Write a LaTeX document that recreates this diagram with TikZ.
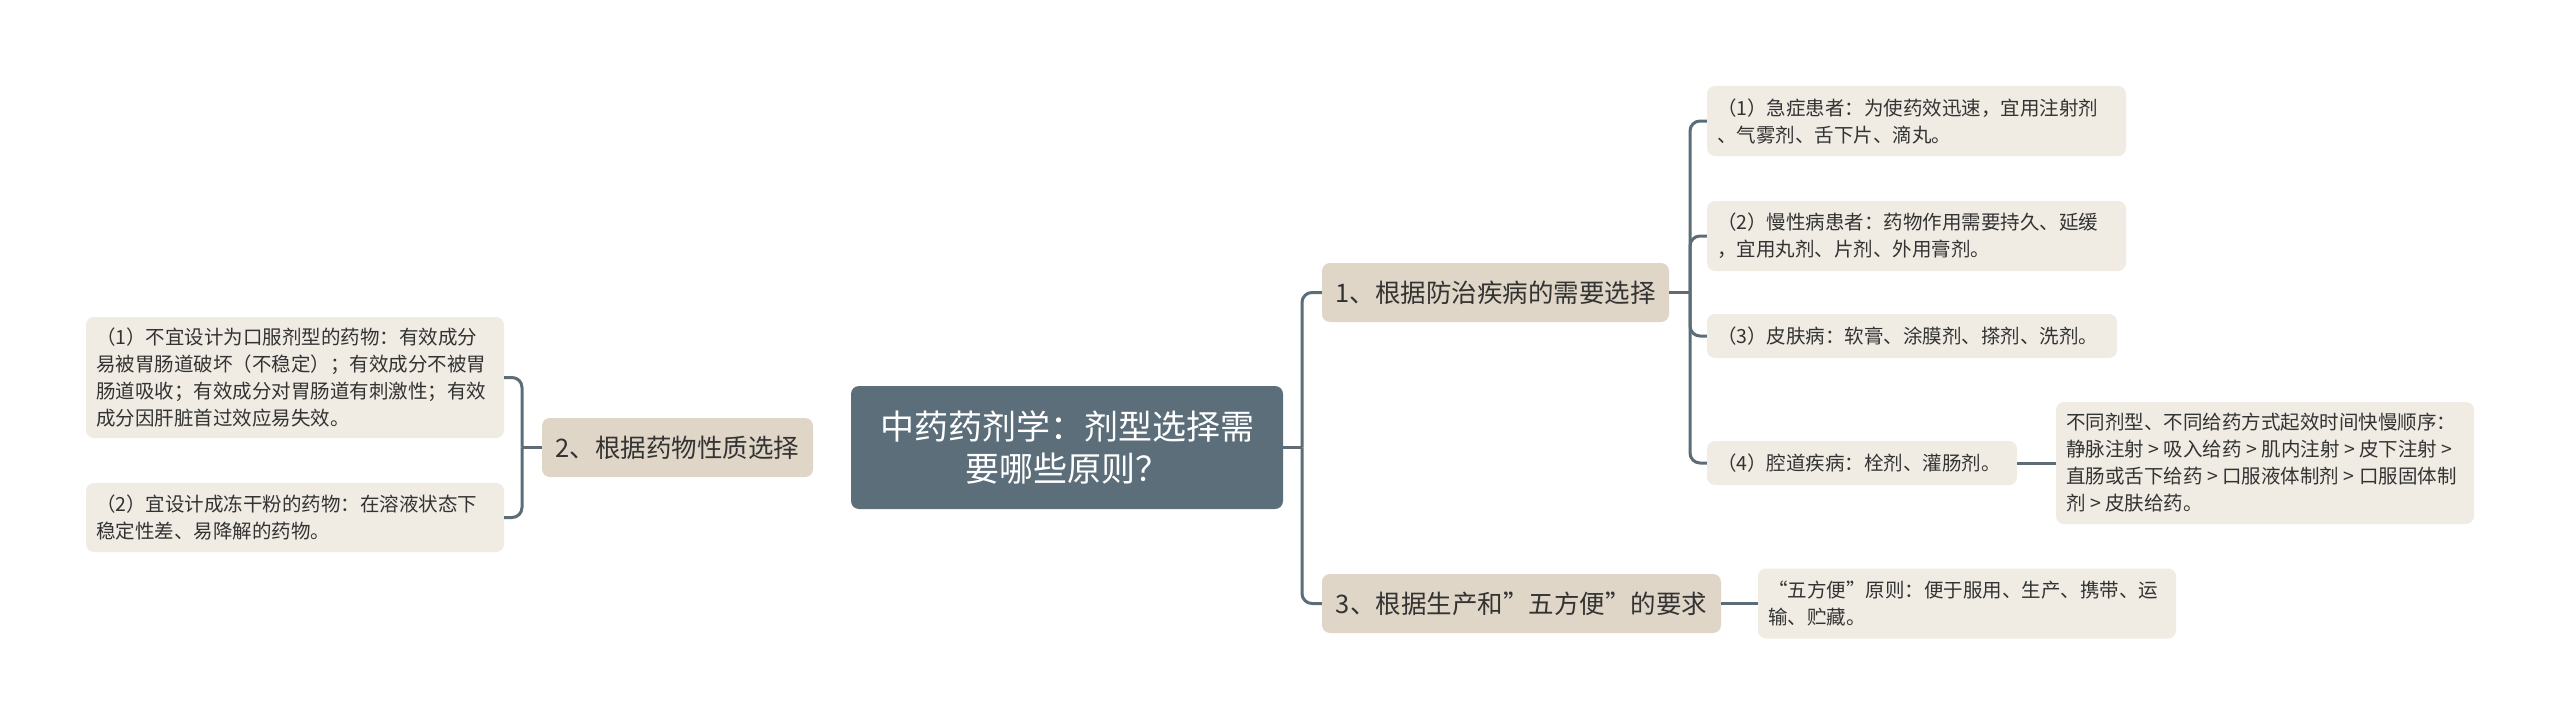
\documentclass[tikz,border=0pt]{standalone}
\usepackage{fontspec}
\newfontfamily\cjk{Noto Sans CJK SC}
\definecolor{rootc}{HTML}{5B6E7A}
\definecolor{linec}{HTML}{5C6D78}
\definecolor{branchc}{HTML}{E0D6C7}
\definecolor{leafc}{HTML}{F0ECE4}
\definecolor{textc}{HTML}{333333}
\newcommand{\gtsep}{\kern4.5pt>\kern4.5pt}
\begin{document}
\begin{tikzpicture}[x=1pt,y=-1pt,
  rootbox/.style={rounded corners=8pt, fill=rootc, text=white, inner sep=0pt,
    minimum width=432pt, minimum height=123pt, align=center,
    font=\cjk\fontsize{34}{42}\selectfont},
  branchbox/.style={rounded corners=8pt, fill=branchc, text=textc, inner sep=0pt,
    minimum height=59pt, align=center, font=\cjk\fontsize{25.5}{30}\selectfont},
  leafbox/.style={rounded corners=8pt, fill=leafc, text=textc, inner xsep=10pt, inner ysep=0pt,
    align=left, font=\cjk\fontsize{19.5}{27}\selectfont},
  conn/.style={draw=linec, line width=3pt, rounded corners=10pt}]
\useasboundingbox (0,0) rectangle (2560,725);
\fill[white] (0,0) rectangle (2560,725);

% root
\node[rootbox] (root) at (1067,447.5) {中药药剂学：剂型选择需\\要哪些原则？};

% branches
\node[branchbox, minimum width=271pt] (b2) at (677.5,447.5) {2、根据药物性质选择};
\node[branchbox, minimum width=347pt] (b1) at (1495.5,292.5) {1、根据防治疾病的需要选择};
\node[branchbox, minimum width=399pt] (b3) at (1521.5,603.5) {3、根据生产和”五方便”的要求};

% left leaves
\node[leafbox, text width=398pt, minimum height=121pt] (l1) at (295,377.5)
  {（1）不宜设计为口服剂型的药物：有效成分\\易被胃肠道破坏（不稳定）；有效成分不被胃\\肠道吸收；有效成分对胃肠道有刺激性；有效\\成分因肝脏首过效应易失效。};
\node[leafbox, text width=398pt, minimum height=69pt] (l2) at (295,517.5)
  {（2）宜设计成冻干粉的药物：在溶液状态下\\稳定性差、易降解的药物。};

% right leaves of branch 1
\node[leafbox, text width=399pt, minimum height=70pt] (r1) at (1916.5,121)
  {（1）急症患者：为使药效迅速，宜用注射剂\\、气雾剂、舌下片、滴丸。};
\node[leafbox, text width=399pt, minimum height=70pt] (r2) at (1916.5,236)
  {（2）慢性病患者：药物作用需要持久、延缓\\，宜用丸剂、片剂、外用膏剂。};
\node[leafbox, text width=390pt, minimum height=44pt] (r3) at (1912,336)
  {（3）皮肤病：软膏、涂膜剂、搽剂、洗剂。};
\node[leafbox, text width=290pt, minimum height=44pt] (r4) at (1862,463)
  {（4）腔道疾病：栓剂、灌肠剂。};
\node[leafbox, text width=398pt, minimum height=122pt] (r4c) at (2265,463)
  {\mbox{不同剂型、不同给药方式起效时间快慢顺序：}\\
   \mbox{静脉注射\gtsep 吸入给药\gtsep 肌内注射\gtsep 皮下注射\gtsep}\\
   \mbox{直肠或舌下给药\gtsep 口服液体制剂\gtsep 口服固体制}\\
   \mbox{剂\gtsep 皮肤给药。}};

% child of branch 3
\node[leafbox, text width=398pt, minimum height=70pt] (c3) at (1967,603.5)
  {“五方便”原则：便于服用、生产、携带、运\\输、贮藏。};

% connectors
\coordinate (jl) at (522,447.5);
\draw[conn] (b2.west) -- (jl);
\draw[conn] (jl) |- (l1.east);
\draw[conn] (jl) |- (l2.east);

\coordinate (jr) at (1302,447.5);
\draw[conn] (root.east) -- (jr);
\draw[conn] (jr) |- (b1.west);
\draw[conn] (jr) |- (b3.west);

\coordinate (j1) at (1690,292.5);
\draw[conn] (b1.east) -- (j1);
\draw[conn] (j1) |- (r1.west);
\draw[conn] (j1) |- (r2.west);
\draw[conn] (j1) |- (r3.west);
\draw[conn] (j1) |- (r4.west);

\draw[conn] (r4.east) -- (r4c.west);
\draw[conn] (b3.east) -- (c3.west);
\end{tikzpicture}
\end{document}
